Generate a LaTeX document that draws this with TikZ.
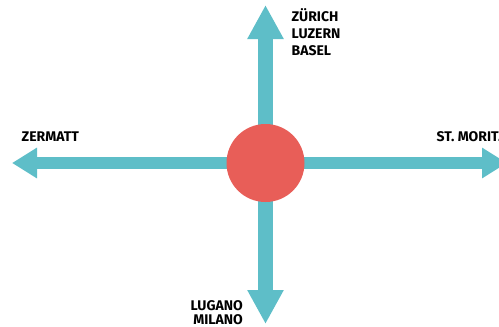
\documentclass[tikz,border=0pt]{standalone}
\usepackage{fontspec}
\setmainfont{Fira Sans}[UprightFont=* Bold]
\usetikzlibrary{arrows.meta}
\definecolor{teal}{RGB}{94,190,200}
\definecolor{hubred}{RGB}{232,94,88}
\tikzset{
  varrow/.style={draw=teal, line width=15pt, -{Triangle[length=34pt,width=34pt]}, color=teal},
  harrow/.style={draw=teal, line width=12pt, -{Triangle[length=25pt,width=29pt]}, color=teal},
  place/.style={font=\fontsize{14}{17}\selectfont, inner sep=0pt, text=black},
  hub/.style={circle, fill=hubred, minimum size=78pt, inner sep=0pt}
}
\begin{document}
\begin{tikzpicture}[x=1pt,y=-1pt]
\useasboundingbox (0,0) rectangle (499,327);
\clip (0,0) rectangle (499,327);
\coordinate (ctr) at (265.5,163);
\coordinate (ntip) at (265.5,5);
\coordinate (stip) at (265.5,324);
\coordinate (wtip) at (12,163);
\coordinate (etip) at (507,163);
\draw[varrow] (ctr) -- (ntip);
\draw[varrow] (ctr) -- (stip);
\draw[harrow] (ctr) -- (wtip);
\draw[harrow] (ctr) -- (etip);
\node[hub] (h) at (ctr) {};
\node[place, anchor=north west, align=left] (north) at (291.5,8) {ZÜRICH\\LUZERN\\BASEL};
\node[place, anchor=base west] (west) at (21.5,141) {ZERMATT};
\node[place, anchor=base west] (east) at (436.5,141.5) {ST. MORITZ};
\node[place, anchor=north east, align=right] (south) at (243,300) {LUGANO\\[-3pt]MILANO};
\end{tikzpicture}
\end{document}
